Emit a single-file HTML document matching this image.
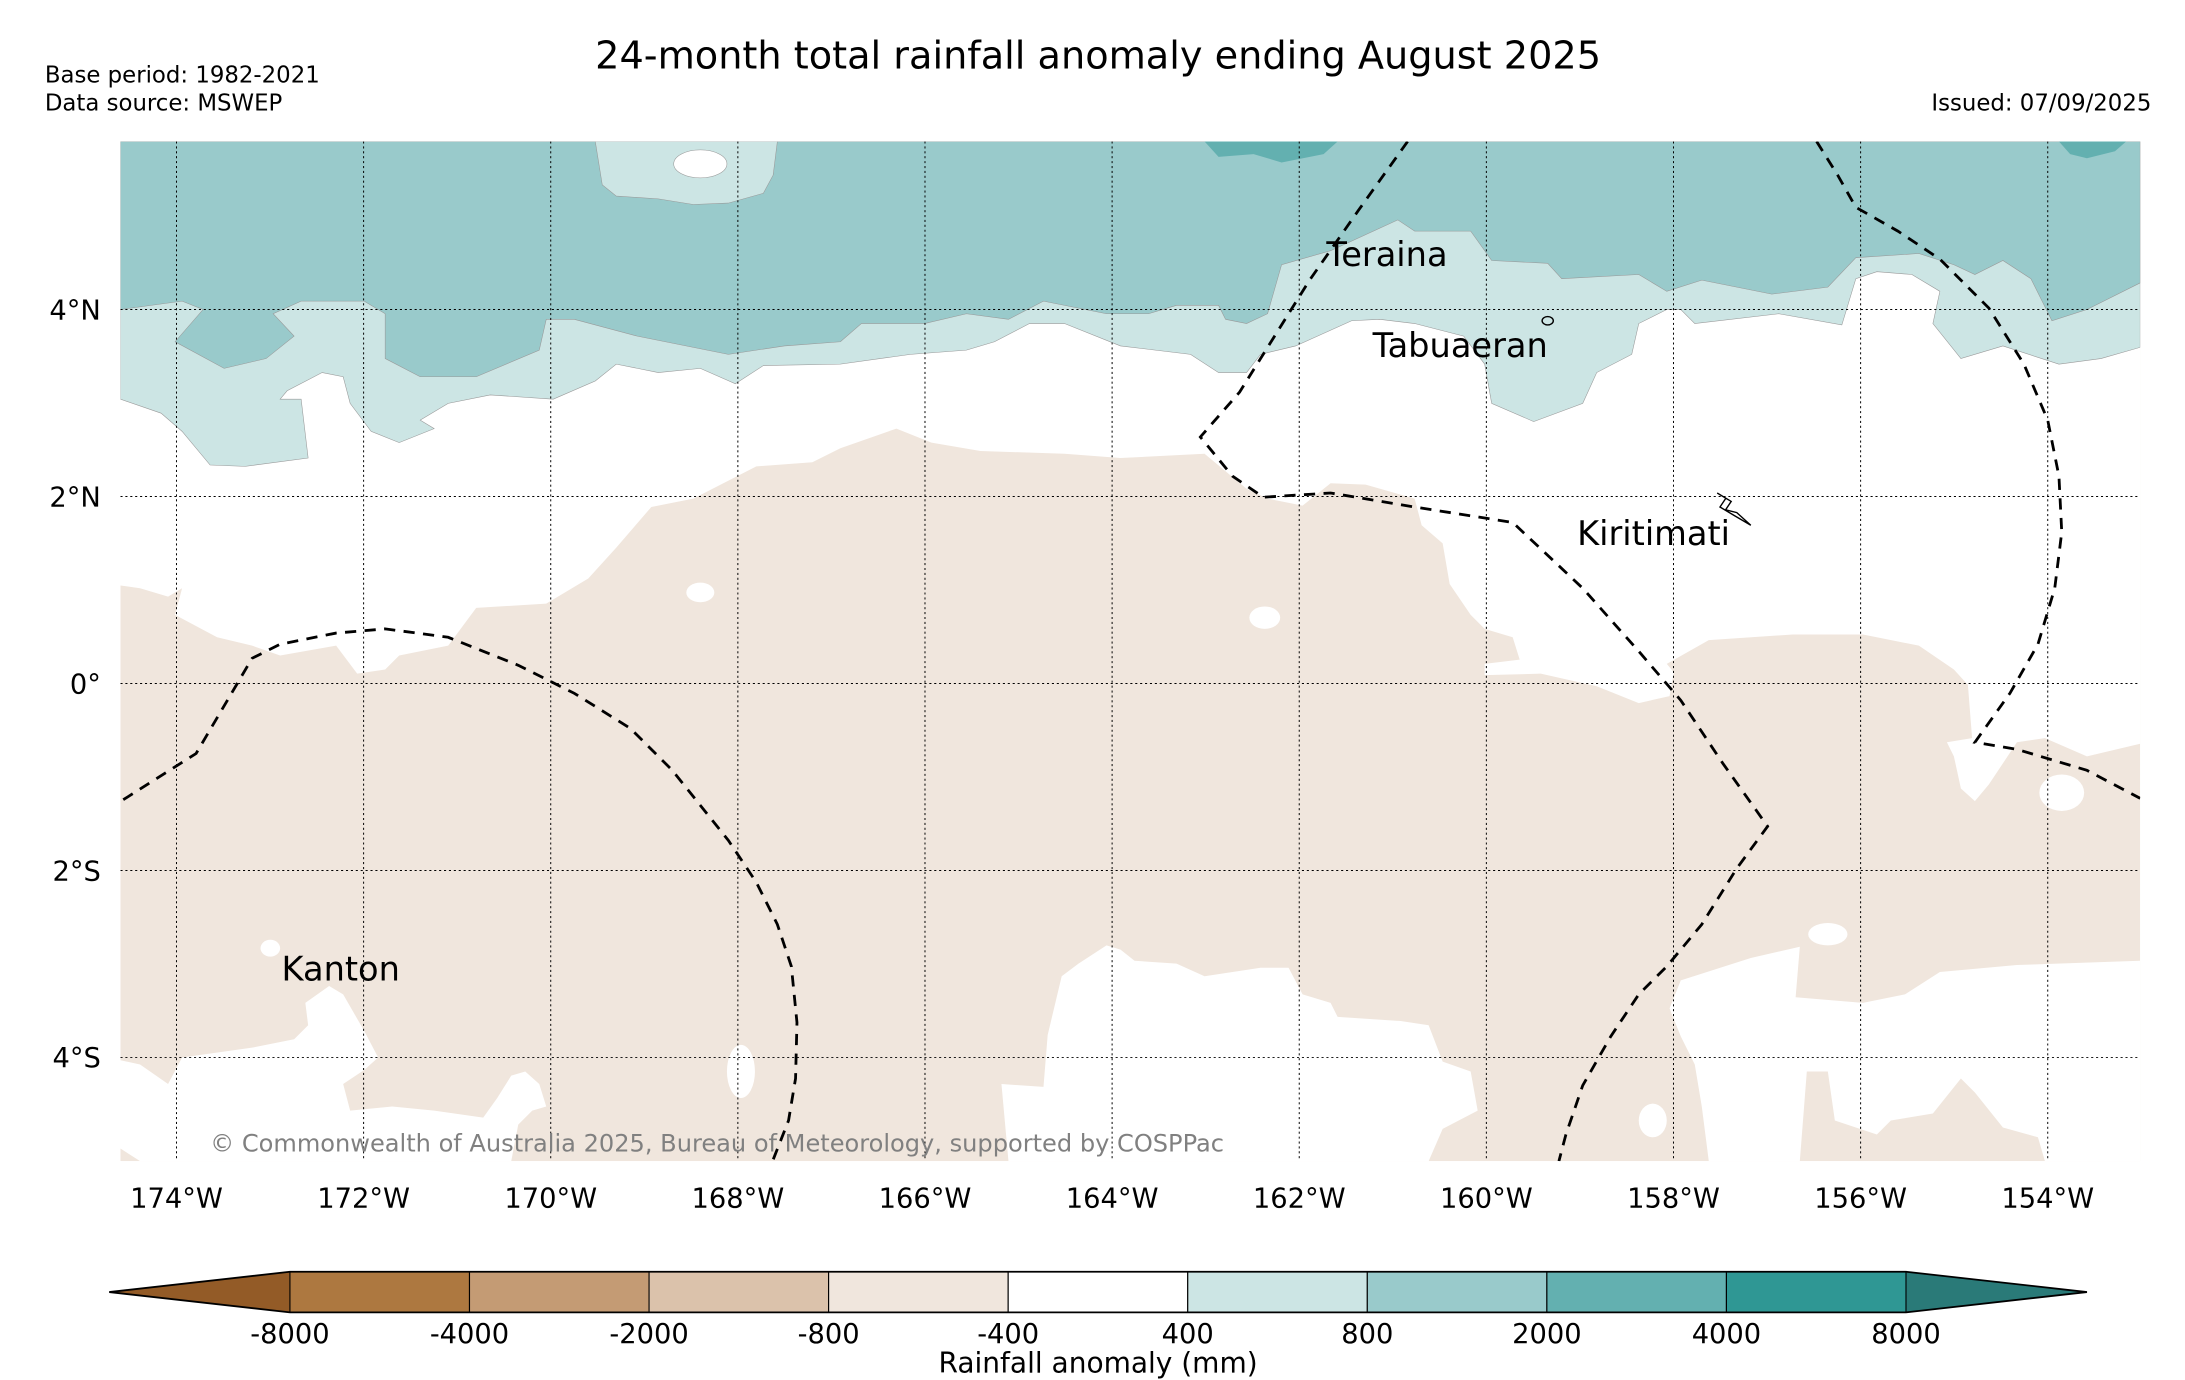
<!DOCTYPE html>
<html><head><meta charset="utf-8"><style>
html,body{margin:0;padding:0;background:#fff;}
svg{display:block;font-family:"DejaVu Sans","Liberation Sans",sans-serif;}
</style></head><body>
<svg id="chart" width="2185" height="1380" viewBox="0 0 1560 985.3" preserveAspectRatio="none" xmlns="http://www.w3.org/2000/svg">
<defs><clipPath id="mapclip"><rect x="86" y="101" width="1442" height="728"/></clipPath></defs>
<text x="784" y="49" font-size="27.3" text-anchor="middle">24-month total rainfall anomaly ending August 2025</text>
<text x="32" y="59" font-size="16.3">Base period: 1982-2021</text>
<text x="32" y="79" font-size="16.3">Data source: MSWEP</text>
<text x="1536" y="79" font-size="16.3" text-anchor="end">Issued: 07/09/2025</text>
<g id="map" clip-path="url(#mapclip)">
<rect x="86" y="101" width="1442" height="728" fill="#f0e6dd"/>
<polygon fill="#ffffff" points="86,101 1528,101 1528,531 1490,540 1460,527 1440,530 1420,560 1410,572 1400,563 1395,540 1390,530 1408,527 1405,489 1395,478 1370,461 1330,453 1280,453 1220,457 1190,474 1195,480 1192,497 1170,502 1140,490 1100,481 1060,482 1060,474 1085,471 1080,455 1060,449 1050,439 1035,417 1030,388 1015,375 1010,356 975,346 950,345 930,361 905,356 890,349 860,324 800,327 760,324 700,322 665,316 640,306 600,320 580,330 540,333 495,356 465,362 440,391 420,413 390,431 340,434 320,461 285,468 275,478 255,481 240,461 200,468 180,461 155,455 125,439 130,420 120,426 100,420 86,418"/>
<polygon fill="#cce5e4" stroke="#999" stroke-width="0.4" points="86,101 1528,101 1528,248 1500,256 1470,260 1430,247 1400,256 1380,231 1385,208 1365,196 1340,194 1325,199 1315,232 1270,224 1210,231 1200,221 1190,221 1170,231 1165,253 1140,266 1130,288 1095,301 1065,288 1060,260 1045,240 1010,231 985,228 965,229 925,247 900,253 890,266 870,266 850,253 800,247 760,231 735,231 710,244 690,250 650,253 600,260 545,261 525,274 500,263 470,266 440,260 425,272 395,285 350,282 320,288 300,300 310,306 285,316 265,308 250,288 245,269 230,266 205,279 200,285 215,285 220,327 175,333 150,332 130,308 115,295 86,285"/>
<polygon fill="#99cacb" stroke="#999" stroke-width="0.4" points="86,101 1528,101 1528,202 1490,221 1465,229 1450,199 1430,186 1410,196 1395,189 1370,181 1325,184 1305,205 1265,210 1215,200 1190,208 1170,196 1115,199 1105,188 1065,186 1050,165 1010,165 998,157 985,163 950,179 915,189 905,224 890,231 875,228 870,218 840,218 820,224 790,224 745,215 720,228 690,224 660,231 615,231 600,244 560,247 520,253 455,240 410,228 390,228 385,250 340,269 300,269 275,256 275,224 260,215 215,215 195,224 210,240 190,256 160,263 125,244 145,221 130,215 86,221"/>
<polygon fill="#cce5e4" stroke="#999" stroke-width="0.4" points="425,101 555,101 552,125 545,138 520,145 495,146 470,142 440,140 430,132"/>
<ellipse cx="500" cy="117" rx="19" ry="10" fill="#fff" stroke="#999" stroke-width="0.4"/>
<polygon fill="#63b0b0" points="860,101 955,101 945,110 915,116 895,110 870,112"/>
<polygon fill="#63b0b0" points="1470,101 1518,101 1510,108 1490,113 1478,110"/>
<polygon fill="#fff" points="86,757 100,760 120,774 130,755 180,748 210,742 220,732 218,716 235,704 245,710 260,736 270,755 260,764 245,774 250,793 280,790 310,793 345,798 355,784 365,768 375,765 385,774 390,790 380,793 370,803 365,829 100,829 86,820"/>
<polygon fill="#fff" points="720,829 715,774 745,776 748,739 758,697 770,688 790,675 800,678 810,686 840,688 860,697 900,691 920,691 930,710 950,716 955,726 1000,729 1020,732 1030,758 1050,765 1055,793 1030,806 1020,829"/>
<polygon fill="#fff" points="1200,700 1250,684 1285,676 1282,712 1330,716 1360,710 1385,694 1440,689 1528,686 1528,829 1460,829 1455,812 1430,805 1410,780 1400,770 1380,795 1350,800 1340,810 1310,800 1305,765 1290,765 1285,829 1220,829 1215,790 1210,760 1200,740 1192,720"/>
<ellipse cx="500" cy="423" rx="10" ry="7" fill="#fff"/>
<ellipse cx="903" cy="441" rx="11" ry="8" fill="#fff"/>
<ellipse cx="529" cy="765" rx="10" ry="19" fill="#fff"/>
<ellipse cx="1472" cy="566" rx="16" ry="13" fill="#fff"/>
<ellipse cx="1305" cy="667" rx="14" ry="8" fill="#fff"/>
<ellipse cx="1180" cy="800" rx="10" ry="12" fill="#fff"/>
<ellipse cx="193" cy="677" rx="7" ry="6" fill="#fff"/>
<g id="grid"></g>
<polyline fill="none" stroke="#000" stroke-width="2" stroke-dasharray="8,6" points="88,571 140,538 180,470 200,460 240,452 275,449 320,455 370,475 410,495 450,520 480,550 520,600 540,630 555,660 565,690 569,730 568,770 563,800 552,828"/>
<polyline fill="none" stroke="#000" stroke-width="2" stroke-dasharray="8,6" points="1005,101 970,150 935,200 910,240 885,280 857,312 880,340 902,355 950,352 1010,362 1080,373 1130,420 1170,465 1200,500 1230,545 1262,590 1240,620 1215,660 1190,690 1170,710 1150,740 1130,775 1118,810 1113,829"/>
<polyline fill="none" stroke="#000" stroke-width="2" stroke-dasharray="8,6" points="1297,101 1312,125 1325,148 1355,165 1385,185 1420,220 1445,260 1462,300 1470,340 1472,380 1467,420 1455,460 1435,495 1410,530 1440,535 1490,550 1528,570"/>
<polyline fill="none" stroke="#000" stroke-width="1" points="1226,352 1236,358 1232,364 1240,366 1250,375 1238,368 1228,362 1232,356"/>
<ellipse cx="1105" cy="229" rx="4" ry="3" fill="none" stroke="#000" stroke-width="1"/>
<text x="947" y="190" font-size="24">Teraina</text>
<text x="980" y="255" font-size="24">Tabuaeran</text>
<text x="1126" y="389" font-size="24">Kiritimati</text>
<text x="201" y="700" font-size="24">Kanton</text>
<text x="150" y="822" font-size="17.2" fill="#808080">© Commonwealth of Australia 2025, Bureau of Meteorology, supported by COSPPac</text>
</g>
<g id="axes"></g>
<g id="colorbar"></g>
<text x="784" y="980" font-size="20" text-anchor="middle">Rainfall anomaly (mm)</text>
</svg>
<script>
const lonTicks = [-174,-172,-170,-168,-166,-164,-162,-160,-158,-156,-154];
const latTicks = [4,2,0,-2,-4];
const cbLevels = ["-8000","-4000","-2000","-800","-400","400","800","2000","4000","8000"];
const cbColors = ["#ad7840","#c49b74","#dbc2ab","#f0e6dd","#ffffff","#cce5e4","#99cacb","#63b0b0","#2f9794"];
const cbExtColors = ["#935b27","#2a7a78"];

const NS = "http://www.w3.org/2000/svg";
const X0 = 86, X1 = 1528, Y0 = 101, Y1 = 829;
function xLon(lon){ return 126 + (lon + 174) * 66.8; }
function yLat(lat){ return 488 - lat * 66.75; }
function mk(tag, attrs, parent){ const e = document.createElementNS(NS, tag); for (const k in attrs) e.setAttribute(k, attrs[k]); parent.appendChild(e); return e; }

const grid = document.getElementById('grid');
const axes = document.getElementById('axes');
lonTicks.forEach(lon => {
  const x = xLon(lon);
  const l = mk('line', {x1:x, x2:x, y1:Y0, y2:Y1, stroke:'#000', 'stroke-width':0.7, 'stroke-dasharray':'1.5,2'}, grid);
  
  
  const t = mk('text', {x:x, y:862, 'font-size':19.5, 'text-anchor':'middle'}, axes);
  t.textContent = Math.abs(lon) + '°W';
  
  
});
latTicks.forEach(lat => {
  const y = yLat(lat);
  const l = mk('line', {x1:X0, x2:X1, y1:y, y2:y, stroke:'#000', 'stroke-width':0.7, 'stroke-dasharray':'1.5,2'}, grid);
  
  
  const t = mk('text', {x:72, y:y + 7, 'font-size':19.5, 'text-anchor':'end'}, axes);
  t.textContent = lat === 0 ? '0°' : Math.abs(lat) + (lat > 0 ? '°N' : '°S');
  
  
});

const cb = document.getElementById('colorbar');
const cbX0 = 207, cbW = 128.2, cbY = 908, cbH = 29;
const nSeg = cbColors.length;
const left = mk('polygon', {points: `${cbX0},${cbY} 78,${cbY+cbH/2} ${cbX0},${cbY+cbH}`, fill: cbExtColors[0]}, cb);


const right = mk('polygon', {points: `${cbX0+nSeg*cbW},${cbY} 1490,${cbY+cbH/2} ${cbX0+nSeg*cbW},${cbY+cbH}`, fill: cbExtColors[1]}, cb);


cbColors.forEach((c, i) => {
  const r = mk('rect', {x: cbX0 + i*cbW, y: cbY, width: cbW, height: cbH, fill: c, stroke: '#000', 'stroke-width': 0.8}, cb);
  
  
});
const ol = mk('polygon', {points: `78,${cbY+cbH/2} ${cbX0},${cbY} ${cbX0+nSeg*cbW},${cbY} 1490,${cbY+cbH/2} ${cbX0+nSeg*cbW},${cbY+cbH} ${cbX0},${cbY+cbH}`, fill:'none', stroke:'#000', 'stroke-width':1.3}, cb);


cbLevels.forEach((lv, i) => {
  const t = mk('text', {x: cbX0 + i*cbW, y: 959, 'font-size': 19.5, 'text-anchor': 'middle'}, cb);
  t.textContent = lv;
  
  
});
</script>
</body></html>
